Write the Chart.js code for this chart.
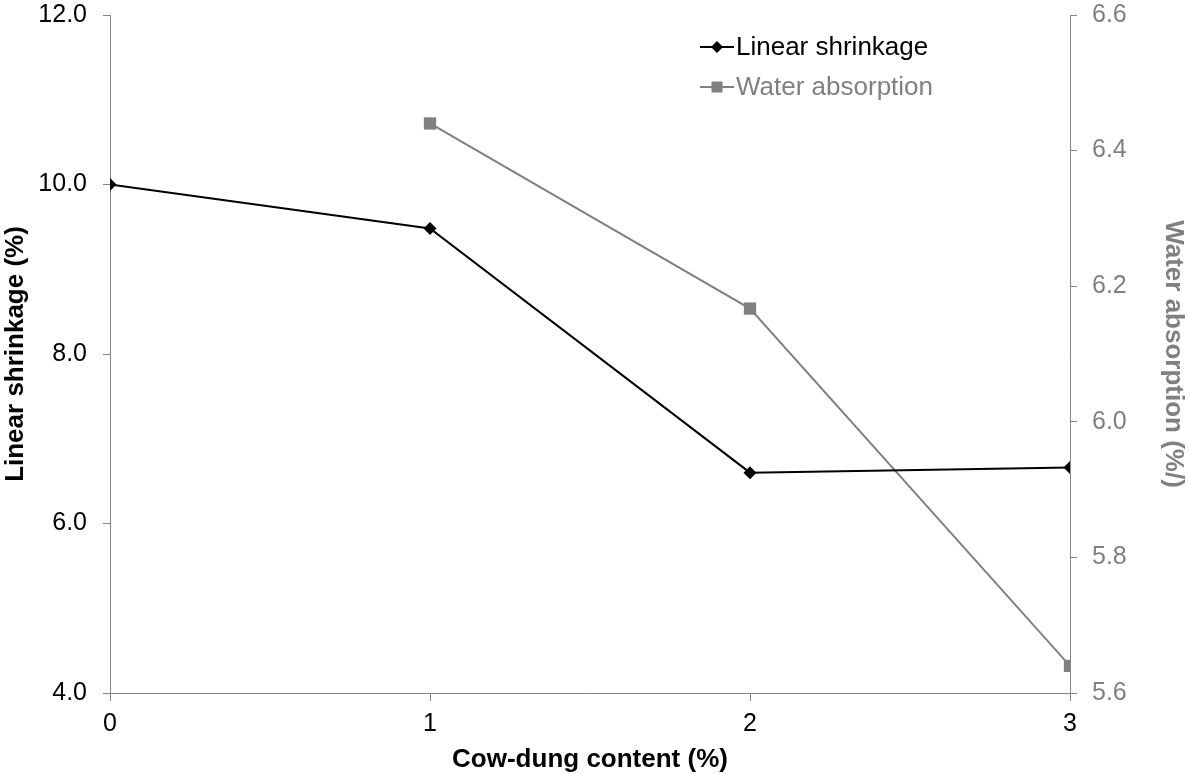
<!DOCTYPE html>
<html>
<head>
<meta charset="utf-8">
<script src="https://cdn.jsdelivr.net/npm/chart.js@4/dist/chart.umd.min.js"></script>
<style>
html,body{margin:0;padding:0;background:#fff;}
#wrap{width:1189px;height:774px;}
</style>
</head>
<body>
<div id="wrap"><canvas id="c" width="1189" height="774"></canvas></div>
<script>
// data
const shrinkX = [0, 1, 2, 3];
const shrinkY = [10.0, 9.48, 6.6, 6.66];
const waterX = [1, 2, 3];
const waterY = [6.44, 6.167, 5.64];
const leftTicks = [4, 6, 8, 10, 12];
const rightTicks = [5.6, 5.8, 6.0, 6.2, 6.4, 6.6];

const axisGrey = '#868686';
const waterGrey = '#808080';
const fontFam = '"Liberation Sans", Arial, sans-serif';

function pts(xs, ys){
    let out = [];
    for (let i in xs) out.push({x: xs[i], y: ys[i]});
    return out;
}

// legend drawn inside the plot, like the original
const innerLegend = {
    id: 'innerLegend',
    afterDraw(chart){
        let ctx = chart.ctx;
        let rows = [
            {ds: chart.data.datasets[0], y: 47},
            {ds: chart.data.datasets[1], y: 87}
        ];
        ctx.save();
        ctx.font = '26px ' + fontFam;
        ctx.textBaseline = 'middle';
        for (let r of rows) {
            ctx.strokeStyle = r.ds.borderColor;
            ctx.lineWidth = 2;
            ctx.beginPath();
            ctx.moveTo(700, r.y);
            ctx.lineTo(734, r.y);
            ctx.stroke();
            ctx.fillStyle = r.ds.pointBackgroundColor;
            ctx.beginPath();
            if (r.ds.pointStyle == 'rectRot') {
                ctx.moveTo(717 - 6, r.y); ctx.lineTo(717, r.y - 6);
                ctx.lineTo(717 + 6, r.y); ctx.lineTo(717, r.y + 6);
            } else {
                ctx.rect(717 - 5.5, r.y - 5.5, 11, 11);
            }
            ctx.closePath();
            ctx.fill();
            ctx.fillStyle = r.ds.borderColor;
            ctx.fillText(r.ds.label, 736, r.y + 1);
        }
        ctx.restore();
    }
};

let ctx = document.getElementById('c').getContext('2d');
let myChart = new Chart(ctx, {
    type: 'line',
    data: {
        datasets: [{
            label: 'Linear shrinkage',
            data: pts(shrinkX, shrinkY),
            yAxisID: 'y',
            borderColor: '#000000',
            backgroundColor: '#000000',
            pointBackgroundColor: '#000000',
            pointBorderWidth: 0,
            pointStyle: 'rectRot',
            pointRadius: 6.5,
            borderWidth: 2,
            tension: 0
        }, {
            label: 'Water absorption',
            data: pts(waterX, waterY),
            yAxisID: 'y1',
            borderColor: waterGrey,
            backgroundColor: waterGrey,
            pointBackgroundColor: waterGrey,
            pointBorderWidth: 0,
            pointStyle: 'rect',
            pointRadius: 8.7,
            borderWidth: 2,
            tension: 0
        }]
    },
    options: {
        responsive: false,
        maintainAspectRatio: false,
        animation: false,
        layout: {padding: 0},
        plugins: {
            legend: {display: false},
            tooltip: {enabled: false}
        },
        scales: {
            x: {
                type: 'linear',
                min: 0, max: 3,
                ticks: {stepSize: 1, color: '#000', font: {family: fontFam, size: 25}, padding: 8},
                grid: {drawOnChartArea: false, color: axisGrey, tickLength: 8, tickWidth: 1},
                border: {color: axisGrey, width: 1},
                title: {display: true, text: 'Cow-dung content (%)', color: '#000',
                        font: {family: fontFam, size: 26, weight: 'bold', lineHeight: 1.1},
                        padding: {top: 0, bottom: 0}},
                afterFit(s){ s.height = 81; s.paddingLeft = 0; s.paddingRight = 0; }
            },
            y: {
                position: 'left',
                min: 4, max: 12,
                afterBuildTicks(s){ s.ticks = leftTicks.map(v => ({value: v})); },
                ticks: {color: '#000', font: {family: fontFam, size: 25}, padding: 16,
                        callback: v => v.toFixed(1)},
                grid: {drawOnChartArea: false, color: axisGrey, tickLength: 7},
                border: {color: axisGrey, width: 1},
                title: {display: true, text: 'Linear shrinkage (%)', color: '#000',
                        font: {family: fontFam, size: 26, weight: 'bold', lineHeight: 1.1},
                        padding: {top: 2, bottom: 0}},
                afterFit(s){ s.width = 110; s.paddingTop = 15; s.paddingBottom = 0; }
            },
            y1: {
                position: 'right',
                min: 5.6, max: 6.6,
                afterBuildTicks(s){ s.ticks = rightTicks.map(v => ({value: v})); },
                ticks: {color: waterGrey, font: {family: fontFam, size: 25}, padding: 15,
                        callback: v => v.toFixed(1)},
                grid: {drawOnChartArea: false, color: axisGrey, tickLength: 7},
                border: {color: axisGrey, width: 1},
                title: {display: true, text: 'Water absorption (%/)', color: waterGrey,
                        font: {family: fontFam, size: 26, weight: 'bold', lineHeight: 1.1},
                        padding: {top: 2, bottom: 0}},
                afterFit(s){ s.width = 119; s.paddingTop = 15; s.paddingBottom = 0; }
            }
        }
    },
    plugins: [innerLegend]
});
</script>
</body>
</html>
